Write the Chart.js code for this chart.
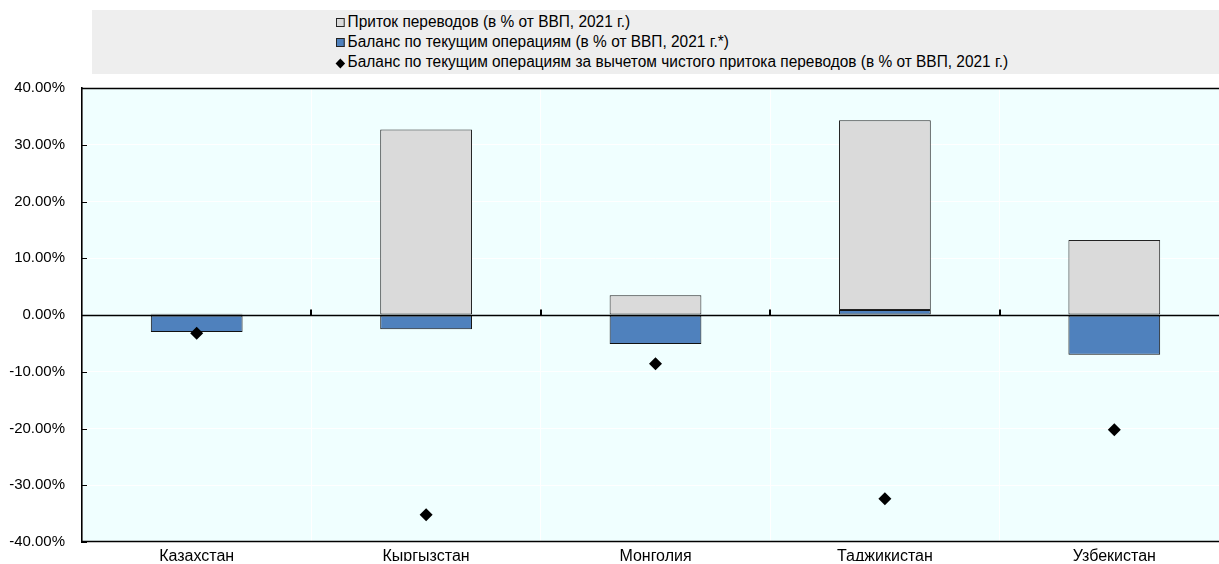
<!DOCTYPE html>
<html lang="ru">
<head>
<meta charset="utf-8">
<script src="https://cdn.jsdelivr.net/npm/chart.js@4/dist/chart.umd.min.js"></script>
<style>
  html, body { margin: 0; padding: 0; background: #ffffff; overflow: hidden; }
  #wrap { position: relative; width: 1219px; height: 564px; overflow: hidden; }
  #chart { position: absolute; left: 0; top: 0; }
  #legend {
    position: absolute; left: 92px; top: 10px; width: 1150px; height: 64px;
    background: #eeeeee;
    font-family: "Liberation Sans", Arial, sans-serif;
    font-size: 16px; color: #000;
  }
  .item {
    position: absolute; left: 244px; height: 20px; line-height: 20px; white-space: nowrap;
    transform: scaleX(0.965); transform-origin: 0 50%;
  }
  .mark { display: inline-block; width: 9px; height: 9px; margin-right: 3px; vertical-align: 0px; box-sizing: border-box; }
</style>
</head>
<body>
<div id="wrap">
  <canvas id="chart" width="1240" height="568"></canvas>
  <div id="legend"></div>
</div>
<script>
// Categories and series (% of GDP, 2021)
const categories = ['Казахстан', 'Кыргызстан', 'Монголия', 'Таджикистан', 'Узбекистан'];
const remittances = [0.2, 32.7, 3.5, 33.4, 13.2];
const currentAccount = [-3.0, -2.5, -5.1, 0.9, -7.0];
const netOfRemittances = [-3.2, -35.2, -8.6, -32.4, -20.2];
const yTicks = [-40, -30, -20, -10, 0, 10, 20, 30, 40];

const labelRemit = 'Приток переводов (в % от ВВП, 2021 г.)';
const labelCA = 'Баланс по текущим операциям (в % от ВВП, 2021 г.*)';
const labelNet = 'Баланс по текущим операциям за вычетом чистого притока переводов (в % от ВВП, 2021 г.)';

const FONT = '"Liberation Sans", Arial, sans-serif';
const PLOT_BG = '#f0ffff';

// Plot background, inner ticks and frame lines
const frame = {
  id: 'frame',
  beforeDraw(chart) {
    const { ctx, chartArea: a } = chart;
    ctx.save();
    ctx.fillStyle = PLOT_BG;
    ctx.fillRect(a.left, a.top, a.right - a.left, a.bottom - a.top);
    ctx.restore();
  },
  afterDatasetsDraw(chart) {
    const { ctx, chartArea: a, scales } = chart;
    const y = scales.y, x = scales.x;
    const y0 = Math.round(y.getPixelForValue(0)) + 0.5;
    ctx.save();
    ctx.strokeStyle = '#000';
    // zero line
    ctx.lineWidth = 1.6;
    ctx.beginPath(); ctx.moveTo(a.left, y0); ctx.lineTo(a.right, y0); ctx.stroke();
    // top and bottom frame
    ctx.lineWidth = 1.6;
    ctx.beginPath();
    ctx.moveTo(a.left, a.top + 0.5); ctx.lineTo(a.right, a.top + 0.5);
    ctx.moveTo(a.left, a.bottom - 0.5); ctx.lineTo(a.right, a.bottom - 0.5);
    ctx.stroke();
    // y ticks pointing inward
    ctx.lineWidth = 1.2;
    ctx.beginPath();
    yTicks.forEach(v => {
      const py = Math.round(y.getPixelForValue(v)) + 0.5;
      ctx.moveTo(a.left, py); ctx.lineTo(a.left + 5, py);
    });
    ctx.stroke();
    // category separators on the zero line
    ctx.lineWidth = 2;
    ctx.beginPath();
    for (let i = 0; i < categories.length - 1; i++) {
      const px = Math.round((x.getPixelForValue(i) + x.getPixelForValue(i + 1)) / 2);
      ctx.moveTo(px, y0); ctx.lineTo(px, y0 - 6);
    }
    ctx.stroke();
    ctx.restore();
  }
};

const chart = new Chart(document.getElementById('chart'), {
  data: {
    labels: categories,
    datasets: [
      {
        type: 'bar', label: labelCA, data: currentAccount, order: 2,
        backgroundColor: '#4f81bd', borderColor: '#111', borderWidth: 1, borderSkipped: false,
        barPercentage: 0.4, categoryPercentage: 1, yAxisID: 'y'
      },
      {
        type: 'bar', label: labelRemit, data: remittances, order: 2,
        backgroundColor: '#dadada', borderColor: '#222', borderWidth: 1, borderSkipped: false,
        barPercentage: 0.4, categoryPercentage: 1, yAxisID: 'y'
      },
      {
        type: 'line', label: labelNet, data: netOfRemittances, order: 1,
        showLine: false, pointStyle: 'rectRot', pointRadius: 6.5, pointHoverRadius: 6.5,
        backgroundColor: '#000', borderColor: '#000', borderWidth: 0, yAxisID: 'yd'
      }
    ]
  },
  options: {
    responsive: false,
    animation: false,
    devicePixelRatio: 1,
    layout: { padding: { top: 88, right: 11, left: 0, bottom: 0 } },
    plugins: { legend: { display: false }, tooltip: { enabled: false } },
    scales: {
      x: {
        stacked: true,
        offset: true,
        grid: { display: true, offset: true, color: '#ffffff', lineWidth: 1, drawTicks: false },
        border: { display: false },
        ticks: { color: '#000', font: { family: FONT, size: 16 }, padding: 5, maxRotation: 0 },
        afterFit(s) { s.height = 19; }
      },
      y: {
        stacked: true,
        min: -40, max: 40,
        afterBuildTicks(s) { s.ticks = yTicks.map(v => ({ value: v })); },
        grid: { color: '#ffffff', lineWidth: 1, drawTicks: false },
        border: { display: true, color: '#000', width: 1.6 },
        ticks: {
          color: '#000', font: { family: FONT, size: 15 }, padding: 17,
          callback: v => v.toFixed(2) + '%'
        },
        afterFit(s) { s.width = 82; }
      },
      yd: {
        display: false, min: -40, max: 40, stacked: false
      }
    }
  },
  plugins: [frame]
});

// Legend built from the dataset labels and colours
const legend = document.getElementById('legend');
const entries = [
  { label: labelRemit, style: 'background:#dadada;border:1px solid #222;' },
  { label: labelCA, style: 'background:#4f81bd;border:1px solid #222;' },
  { label: labelNet, style: 'background:#000;width:7px;height:7px;transform:rotate(45deg);margin-left:1px;margin-right:4px;' }
];
entries.forEach((e, i) => {
  const d = document.createElement('div');
  d.className = 'item';
  d.style.top = (2 + i * 20) + 'px';
  const m = document.createElement('span');
  m.className = 'mark';
  m.style.cssText = e.style;
  d.appendChild(m);
  d.appendChild(document.createTextNode(e.label));
  legend.appendChild(d);
});
</script>
</body>
</html>
